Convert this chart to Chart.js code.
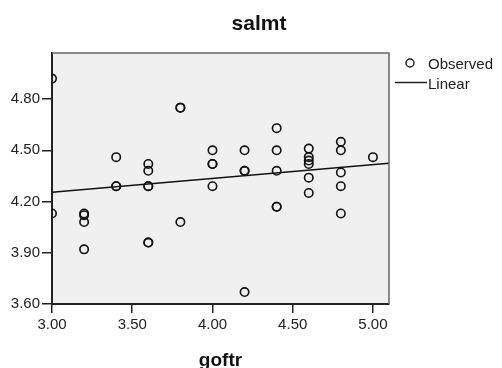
<!DOCTYPE html>
<html>
<head>
<meta charset="utf-8">
<script src="https://cdn.jsdelivr.net/npm/chart.js@4.4.1/dist/chart.umd.min.js"></script>
<style>
  html, body { margin: 0; padding: 0; background: #fff; }
  #wrap { width: 502px; height: 368px; }
</style>
</head>
<body>
<div id="wrap"><canvas id="chart" width="502" height="368"></canvas></div>
<script>
// observed goftr / salmt pairs
var goftr = [3.00, 3.00, 3.20, 3.20, 3.20, 3.20, 3.40, 3.40, 3.40,
             3.60, 3.60, 3.60, 3.60, 3.60, 3.60, 3.80, 3.80, 3.80,
             4.00, 4.00, 4.00, 4.00, 4.20, 4.20, 4.20, 4.20,
             4.40, 4.40, 4.40, 4.40, 4.40, 4.60, 4.60, 4.60, 4.60, 4.60, 4.60,
             4.80, 4.80, 4.80, 4.80, 4.80, 5.00];
var salmt = [4.92, 4.13, 4.13, 4.12, 4.08, 3.92, 4.46, 4.29, 4.29,
             4.42, 4.38, 4.29, 4.29, 3.96, 3.96, 4.75, 4.75, 4.08,
             4.50, 4.42, 4.42, 4.29, 4.50, 4.38, 4.38, 3.67,
             4.63, 4.50, 4.38, 4.17, 4.17, 4.51, 4.46, 4.44, 4.42, 4.34, 4.25,
             4.55, 4.50, 4.37, 4.29, 4.13, 4.46];

// fitted line end points
var fitX = [3.00, 5.10];
var fitY = [4.255, 4.425];

var xTicks = [3.00, 3.50, 4.00, 4.50, 5.00];
var yTicks = [3.60, 3.90, 4.20, 4.50, 4.80];

var FONT = "'Liberation Sans', Arial, sans-serif";
var INK = '#222';

var observed = goftr.map(function (x, i) { return { x: x, y: salmt[i] }; });
var linear = fitX.map(function (x, i) { return { x: x, y: fitY[i] }; });

var plotFrame = {
  id: 'plotFrame',
  beforeDraw: function (chart) {
    var a = chart.chartArea, ctx = chart.ctx;
    ctx.save();
    ctx.fillStyle = '#f0f0f0';
    ctx.fillRect(a.left, a.top, a.right - a.left, a.bottom - a.top);
    ctx.restore();
  },
  afterDraw: function (chart) {
    var a = chart.chartArea, ctx = chart.ctx;
    ctx.save();
    // top and right edges of the box, grey
    ctx.strokeStyle = '#666';
    ctx.lineWidth = 1.5;
    ctx.beginPath();
    ctx.moveTo(a.left, a.top);
    ctx.lineTo(a.right, a.top);
    ctx.lineTo(a.right, a.bottom);
    ctx.stroke();

    // title
    ctx.fillStyle = '#111';
    ctx.font = 'bold 21px ' + FONT;
    ctx.textAlign = 'center';
    ctx.textBaseline = 'alphabetic';
    ctx.fillText('salmt', 259, 29.5);

    // legend
    ctx.font = '15px ' + FONT;
    ctx.textAlign = 'left';
    ctx.fillStyle = INK;
    ctx.strokeStyle = INK;
    ctx.lineWidth = 1.5;
    ctx.beginPath();
    ctx.arc(410, 63, 4, 0, Math.PI * 2);
    ctx.stroke();
    ctx.fillText('Observed', 428, 69);
    ctx.beginPath();
    ctx.moveTo(395, 82.5);
    ctx.lineTo(427, 82.5);
    ctx.stroke();
    ctx.fillText('Linear', 428, 89);
    ctx.restore();
  }
};

new Chart(document.getElementById('chart').getContext('2d'), {
  type: 'scatter',
  data: {
    datasets: [
      { label: 'Observed', data: observed, pointStyle: 'circle', pointRadius: 4.2, pointHoverRadius: 4.2,
        borderColor: '#111', borderWidth: 1.6, backgroundColor: 'rgba(0,0,0,0)', showLine: false, clip: 0 },
      { label: 'Linear', type: 'line', data: linear, borderColor: '#111', borderWidth: 1.5,
        pointRadius: 0, fill: false, tension: 0, clip: 0 }
    ]
  },
  options: {
    responsive: false,
    animation: false,
    events: [],
    layout: { padding: { left: 0, right: 113, top: 53, bottom: 0 } },
    plugins: { legend: { display: false }, tooltip: { enabled: false }, title: { display: false } },
    scales: {
      x: {
        type: 'linear', min: 3.0, max: 5.1,
        afterFit: function (s) { s.height = 64; },
        afterBuildTicks: function (s) { s.ticks = xTicks.map(function (v) { return { value: v }; }); },
        ticks: { callback: function (v) { return v.toFixed(2); }, font: { family: FONT, size: 15 },
                 color: INK, padding: 3, maxRotation: 0, autoSkip: false },
        grid: { drawOnChartArea: false, tickLength: 9, color: INK, lineWidth: 1.5 },
        border: { color: INK, width: 2 },
        title: { display: true, text: 'goftr', color: '#111', padding: 0,
                 font: { family: FONT, size: 19, weight: 'bold', lineHeight: 0.8 } }
      },
      y: {
        type: 'linear', min: 3.6, max: 5.07,
        afterFit: function (s) { s.width = 52; },
        afterBuildTicks: function (s) { s.ticks = yTicks.map(function (v) { return { value: v }; }); },
        ticks: { callback: function (v) { return v.toFixed(2); }, font: { family: FONT, size: 15 },
                 color: INK, padding: 2, autoSkip: false },
        grid: { drawOnChartArea: false, tickLength: 10, color: INK, lineWidth: 1.5 },
        border: { color: INK, width: 2 }
      }
    }
  },
  plugins: [plotFrame]
});
</script>
</body>
</html>
